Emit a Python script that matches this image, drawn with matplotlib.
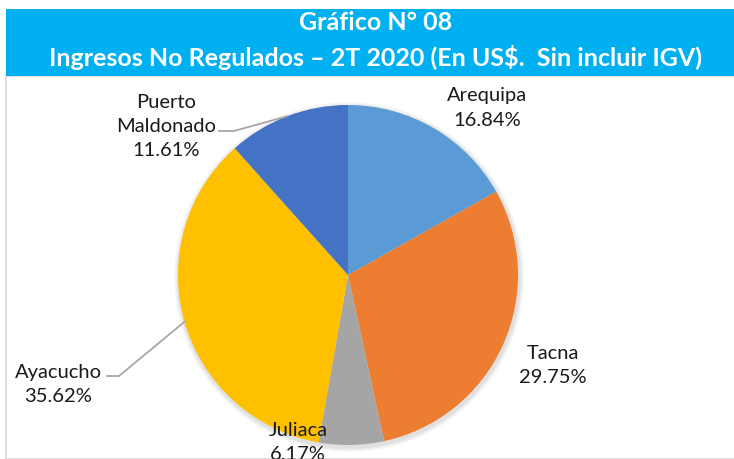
import matplotlib
matplotlib.use("Agg")
import matplotlib.pyplot as plt
from matplotlib.patches import Rectangle
import numpy as np

categories = ["Arequipa", "Tacna", "Juliaca", "Ayacucho", "Puerto\nMaldonado"]
shares = [16.84, 29.75, 6.17, 35.62, 11.61]
colors = ["#5B9BD5", "#ED7D31", "#A5A5A5", "#FFC000", "#4472C4"]
title_lines = ["Gráfico N° 08", "Ingresos No Regulados – 2T 2020 (En US$.  Sin incluir IGV)"]

W, H = 734, 460
fig = plt.figure(figsize=(W / 100, H / 100), dpi=100)
ax = fig.add_axes([0, 0, 1, 1])
ax.set_xlim(0, W)
ax.set_ylim(0, H)
ax.axis("off")

def Y(y):
    return H - y

# chart frame
ax.add_patch(Rectangle((6, 0), W, Y(77), facecolor="white", edgecolor="#D9D9D9", lw=1.2, zorder=0))
# banner
ax.add_patch(Rectangle((6, Y(77)), W, 67, facecolor="#00B0F0", edgecolor="none", zorder=1))
ax.text(376, Y(23), title_lines[0], ha="center", va="center", color="white",
        fontsize=18, fontweight="bold", family="Lato", zorder=2)
ax.text(376, Y(58), title_lines[1], ha="center", va="center", color="white",
        fontsize=18, fontweight="bold", family="Lato", zorder=2)

cx, cy, r = 348, Y(276), 170
# soft shadow
for k, a in enumerate([0.05, 0.04, 0.03]):
    ax.add_patch(plt.Circle((cx + 1, cy - 2), r + 2 + k * 1.5, color="black", alpha=a, lw=0, zorder=2))
wedges, _ = ax.pie(shares, colors=colors, startangle=90, counterclock=False,
                   center=(cx, cy), radius=r, wedgeprops=dict(linewidth=0),
                   frame=True)
for w in wedges:
    w.set_zorder(3)
ax.set_xlim(0, W)
ax.set_ylim(0, H)
ax.axis("off")

label_pos = [(487, 108), (553, 366), (298, 443), (58, 385), (166, 126)]
txt_color = "#1a1a1a"
for name, val, (lx, ly) in zip(categories, shares, label_pos):
    ax.text(lx, Y(ly), f"{name}\n{val:.2f}%", ha="center", va="center",
            fontsize=14.5, family="Lato", color=txt_color, linespacing=1.5, zorder=5)

# leader lines (to wedge midpoints on the rim)
cum = np.cumsum([0] + shares)
def rim(i):
    mid = (cum[i] + cum[i + 1]) / 2 / 100 * 360
    ang = np.deg2rad(90 - mid)
    return cx + r * np.cos(ang), cy + r * np.sin(ang)

px, py = rim(4)
ax.plot([219, 234, px], [Y(132), Y(132), py], color="#A6A6A6", lw=1.3, zorder=4)
px, py = rim(3)
ax.plot([107, 119, px], [Y(377), Y(377), py], color="#A6A6A6", lw=1.3, zorder=4)

fig.savefig("out.png", dpi=100)
